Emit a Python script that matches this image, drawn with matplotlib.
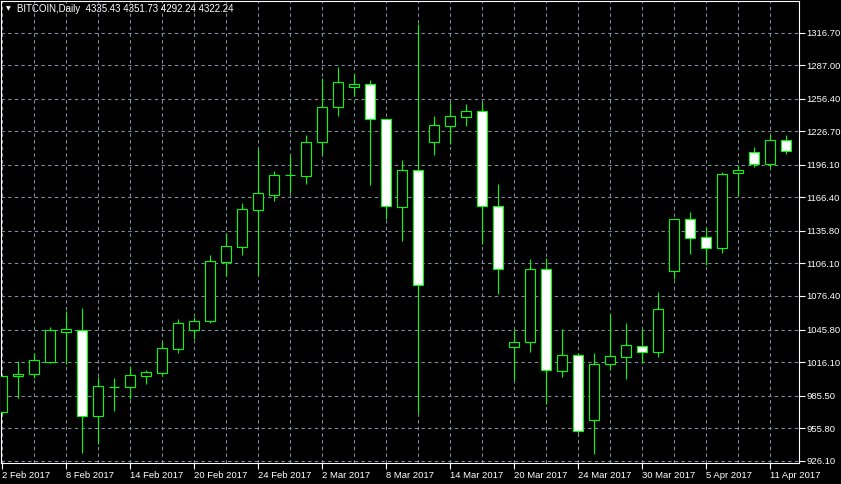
import matplotlib
matplotlib.use("Agg")
import numpy as np
import pandas as pd
from matplotlib import pyplot as plt

# daily bars, weekdays only, starting 2 Feb 2017
dates = pd.bdate_range("2017-02-02", periods=50)

opens = [970.8, 1003.1, 1005.0, 1016.4, 1043.8, 1045.6, 966.6, 993.3, 993.6, 1003.7,
         1006.4, 1028.3, 1045.1, 1053.3, 1107.7, 1121.4, 1155.2, 1168.8, 1186.4, 1186.2,
         1216.7, 1248.6, 1266.9, 1269.6, 1237.7, 1157.4, 1191.1, 1216.7, 1231.8, 1240.0,
         1245.0, 1158.3, 1030.1, 1034.1, 1100.8, 1007.7, 1022.3, 963.0, 1014.1, 1021.0,
         1030.5, 1025.6, 1099.5, 1146.4, 1130.0, 1120.5, 1188.4, 1207.5, 1196.6, 1218.5]
highs = [1003.4, 1017.1, 1024.1, 1047.8, 1062.7, 1065.4, 1002.2, 1001.3, 1012.5, 1008.9,
         1034.1, 1055.4, 1057.0, 1113.6, 1133.6, 1161.0, 1210.6, 1190.5, 1204.2, 1223.1,
         1275.4, 1285.4, 1278.7, 1273.3, 1237.7, 1200.5, 1324.6, 1240.7, 1252.3, 1251.6,
         1253.2, 1178.6, 1045.4, 1110.2, 1111.1, 1046.0, 1024.1, 1024.1, 1060.0, 1051.8,
         1045.4, 1080.1, 1146.4, 1153.1, 1138.2, 1189.3, 1196.0, 1212.4, 1223.6, 1223.3]
lows = [968.7, 983.6, 1001.8, 1015.5, 1014.1, 933.4, 941.3, 971.7, 982.1, 996.4,
        1003.7, 1024.7, 1036.9, 1052.0, 1094.9, 1114.1, 1095.8, 1163.4, 1170.1, 1178.9,
        1206.3, 1240.9, 1259.2, 1178.0, 1146.7, 1126.9, 969.9, 1205.4, 1215.4, 1231.8,
        1124.1, 1078.5, 999.7, 1025.6, 977.6, 1002.8, 951.7, 932.5, 1008.9, 1000.7,
        1015.0, 1021.0, 1091.6, 1115.0, 1105.0, 1115.9, 1168.0, 1193.9, 1194.4, 1206.3]
closes = [1003.4, 1005.2, 1017.7, 1045.4, 1046.0, 966.6, 994.0, 993.8, 1004.0, 1007.0,
          1028.7, 1051.5, 1053.3, 1108.1, 1121.8, 1155.5, 1170.1, 1186.5, 1186.6, 1216.7,
          1248.6, 1271.4, 1269.6, 1237.7, 1158.3, 1191.1, 1086.2, 1232.2, 1240.4, 1245.0,
          1158.8, 1101.3, 1034.1, 1100.8, 1008.9, 1022.3, 952.9, 1014.3, 1021.4, 1031.7,
          1025.0, 1064.3, 1146.4, 1129.6, 1120.5, 1187.5, 1191.4, 1196.6, 1218.5, 1209.0]

price_ticks = [926.10, 955.80, 985.50, 1016.10, 1045.80, 1076.40, 1106.10,
               1135.80, 1166.40, 1196.10, 1226.70, 1256.40, 1287.00, 1316.70]
header = "BITCOIN,Daily  4335.43 4351.73 4292.24 4322.24"

o = np.array(opens)
h = np.array(highs)
l = np.array(lows)
c = np.array(closes)
x = np.arange(len(dates))

green = "#00ff00"
grid_col = "#8090a0"
plt.rcParams["font.family"] = ["Liberation Sans", "DejaVu Sans"]

fig = plt.figure(figsize=(8.41, 4.84), dpi=100, facecolor="black")
ax = fig.add_axes([1 / 841, 21 / 484, 798 / 841, 462 / 484])
ax.set_facecolor("black")

# wicks then bodies (white = bear, black = bull)
ax.vlines(x, l, h, color=green, linewidth=0.8, zorder=2)
bottoms = np.minimum(o, c)
heights = np.maximum(np.abs(c - o), 0.3)
fills = np.where(c < o, "white", "black")
ax.bar(x, heights, bottom=bottoms, width=0.58, color=fills,
       edgecolor=green, linewidth=0.8, zorder=3)

ax.set_xlim(-0.0625, 49.8125)
ax.set_ylim(924.0, 1345.6)

# x axis: labels every 4 bars, grid every 2 bars
major = list(range(0, len(dates), 4))
ax.set_xticks(major)
ax.set_xticklabels([f"{dates[i].day} {dates[i]:%b %Y}" for i in major])
ax.set_xticks(range(0, len(dates), 2), minor=True)
for lab in ax.get_xticklabels():
    lab.set_horizontalalignment("left")

ax.yaxis.tick_right()
ax.set_yticks(price_ticks)
ax.set_yticklabels([f"{p:.2f}" for p in price_ticks])

ax.tick_params(axis="both", colors="white", labelcolor="white", labelsize=6.8,
               length=4, width=0.8, pad=1.5)
ax.tick_params(axis="x", which="minor", length=0)

ax.grid(True, which="both", axis="x", color=grid_col, linestyle=(0, (3, 3)), linewidth=0.8)
ax.grid(True, which="major", axis="y", color=grid_col, linestyle=(0, (3, 3)), linewidth=0.8)
ax.set_axisbelow(True)

for s in ax.spines.values():
    s.set_color("white")
    s.set_linewidth(0.8)

fig.text(17 / 841, 1 - 9 / 484, header, color="white", fontsize=7.0, va="center", ha="left")
fig.text(8 / 841, 1 - 9 / 484, "\u25BC", color="white", fontsize=4.5, va="center",
         ha="center", family="DejaVu Sans")

fig.savefig("out.png", dpi=100, facecolor="black")
